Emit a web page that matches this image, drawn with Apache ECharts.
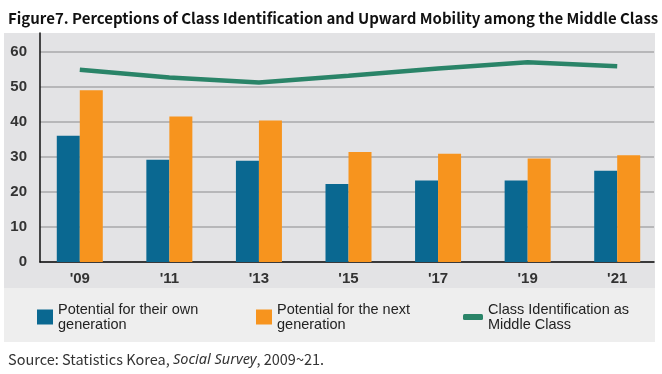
<!DOCTYPE html>
<html>
<head>
<meta charset="utf-8">
<script src="https://cdn.jsdelivr.net/npm/echarts@6/dist/echarts.min.js"></script>
<style>html,body{margin:0;padding:0;background:#fff;}#c{width:662px;height:374px;}</style>
</head>
<body>
<div id="c"></div>
<script>
var categories = ["'09", "'11", "'13", "'15", "'17", "'19", "'21"];
var ownGeneration = [36.1, 29.2, 28.9, 22.3, 23.3, 23.3, 26.1];
var nextGeneration = [49.1, 41.6, 40.4, 31.4, 30.9, 29.6, 30.5];
var middleClass = [54.9, 52.7, 51.3, 53.2, 55.3, 57.1, 55.9];
var yTicks = [0, 10, 20, 30, 40, 50, 60];

var nameOwn = 'Potential for their own\ngeneration';
var nameNext = 'Potential for the next\ngeneration';
var nameMid = 'Class Identification as\nMiddle Class';

var chart = echarts.init(document.getElementById('c'), null, {renderer: 'canvas'});
var labelFont = {fontFamily: 'Liberation Sans', fontWeight: 'bold', fontSize: 15, color: '#333'};
var legendText = {fontFamily: 'Liberation Sans', fontSize: 14.5, lineHeight: 15, color: '#222'};

chart.setOption({
  animation: false,
  backgroundColor: '#ffffff',
  graphic: [
    {type: 'rect', z: -10, shape: {x: 4, y: 33, width: 651, height: 255}, style: {fill: '#e3e3e5'}},
    {type: 'rect', z: -10, shape: {x: 4, y: 288, width: 651, height: 54}, style: {fill: '#eeeeee'}}
  ],
  title: [
    {text: 'Figure7. Perceptions of Class Identification and Upward Mobility among the Middle Class',
     left: 3, top: 6,
     textStyle: {fontFamily: 'Noto Sans CJK KR', fontWeight: 'bold', fontSize: 15, color: '#111'}},
    {text: 'Source: Statistics Korea, {i|Social Survey}, 2009~21.',
     left: 3, top: 347,
     textStyle: {fontFamily: 'Noto Sans CJK KR', fontWeight: 'normal', fontSize: 14.5, color: '#333',
       rich: {i: {fontFamily: 'Noto Sans', fontStyle: 'italic', fontSize: 14.5, color: '#333'}}}}
  ],
  legend: [
    {data: [nameOwn], left: 37, top: 302, padding: 0, icon: 'rect', itemWidth: 16, itemHeight: 15, textStyle: legendText, selectedMode: false},
    {data: [nameNext], left: 256, top: 302, padding: 0, icon: 'rect', itemWidth: 16, itemHeight: 15, textStyle: legendText, selectedMode: false},
    {data: [nameMid], left: 463, top: 302, padding: 0, icon: 'roundRect', itemWidth: 20, itemHeight: 6, textStyle: legendText, selectedMode: false}
  ],
  grid: [
    {left: 40, right: 8, top: 52, bottom: 112},
    {left: 35, width: 635, top: 52, bottom: 112},
    {left: 40, right: 8, top: 33, bottom: 112}
  ],
  xAxis: [
    {type: 'category', gridIndex: 0, data: categories,
     axisLine: {show: true, lineStyle: {color: '#111', width: 1.5}}, axisTick: {show: false}, axisLabel: {show: false}},
    {type: 'category', gridIndex: 1, data: categories,
     axisLine: {show: false}, axisTick: {show: false},
     axisLabel: Object.assign({margin: 9}, labelFont)},
    {type: 'category', gridIndex: 2, data: categories, show: false}
  ],
  yAxis: [
    {type: 'value', gridIndex: 0, min: 0, max: 60, interval: 10,
     axisLine: {show: false}, axisTick: {show: false},
     axisLabel: Object.assign({margin: 13, formatter: function (v) { return yTicks.indexOf(v) >= 0 ? String(v) : ''; }}, labelFont),
     splitLine: {show: true, lineStyle: {color: '#a8a8aa', width: 1.5}}},
    {type: 'value', gridIndex: 1, min: 0, max: 60, show: false},
    {type: 'value', gridIndex: 2, min: 0, max: 65, interval: 5,
     axisLine: {show: true, lineStyle: {color: '#111', width: 1.5}},
     axisTick: {show: false}, axisLabel: {show: false}, splitLine: {show: false}}
  ],
  series: [
    {name: nameOwn, type: 'bar', xAxisIndex: 1, yAxisIndex: 1, data: ownGeneration,
     barWidth: 23, barGap: '0%', itemStyle: {color: '#0a6891'}},
    {name: nameNext, type: 'bar', xAxisIndex: 1, yAxisIndex: 1, data: nextGeneration,
     barWidth: 23, barGap: '0%', itemStyle: {color: '#f7941e'}},
    {name: nameMid, type: 'line', xAxisIndex: 1, yAxisIndex: 1, data: middleClass,
     showSymbol: false, symbol: 'none', lineStyle: {color: '#2a8468', width: 4.5}, itemStyle: {color: '#2a8468'}}
  ]
});
</script>
</body>
</html>
